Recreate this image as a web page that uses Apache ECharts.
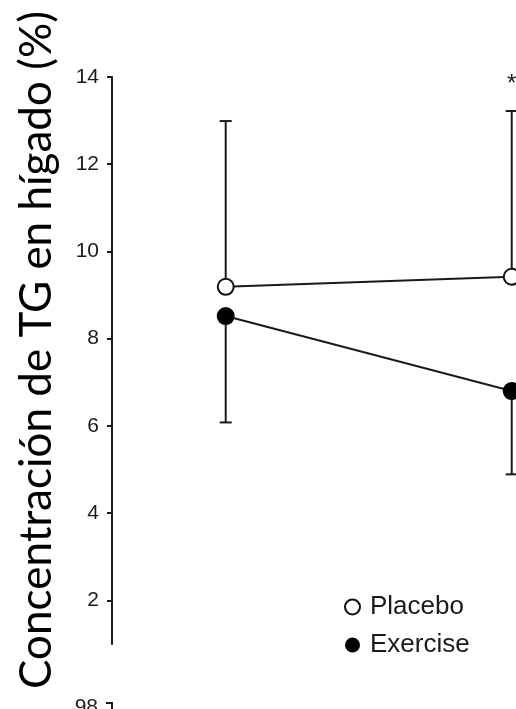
<!DOCTYPE html>
<html>
<head>
<meta charset="utf-8">
<script src="https://cdn.jsdelivr.net/npm/echarts@6/dist/echarts.min.js"></script>
<style>
  html, body { margin: 0; padding: 0; background: #fff; }
  #chart { width: 516px; height: 709px; }
</style>
</head>
<body>
<div id="chart"></div>
<script>
// Time points (index on the hidden x axis)
const timePoints = ['Pre', 'Post'];

// Mean hepatic TG concentration (%)
const placeboMean = [9.19, 9.42];
const exerciseMean = [8.52, 6.80];

// Error-bar ends: placebo drawn upward, exercise drawn downward
const placeboUpper = [12.99, 13.22];
const exerciseLower = [6.08, 4.89];

// Significance marks per time point for the placebo group
const placeboSig = ['', '*'];

// Y-axis tick labels
const yTicks = [2, 4, 6, 8, 10, 12, 14];

const yTitle = 'Concentración de TG en hígado (%)';
const ink = '#1a1a1a';

const chart = echarts.init(document.getElementById('chart'), null, { renderer: 'canvas' });

function errorBarRenderer(ends, marks) {
  return function (params, api) {
    const i = api.value(0);
    const p0 = api.coord([i, api.value(1)]);
    const p1 = api.coord([i, ends[params.dataIndex]]);
    const half = 6;
    const children = [
      { type: 'line', shape: { x1: p0[0], y1: p0[1], x2: p1[0], y2: p1[1] },
        style: { stroke: ink, lineWidth: 2 } },
      { type: 'line', shape: { x1: p1[0] - half, y1: p1[1], x2: p1[0] + half, y2: p1[1] },
        style: { stroke: ink, lineWidth: 2 } }
    ];
    if (marks && marks[params.dataIndex]) {
      children.push({
        type: 'text',
        style: {
          x: p1[0], y: p1[1] - 27, text: marks[params.dataIndex],
          fill: ink, font: '24px "Liberation Sans", Arial, sans-serif',
          align: 'center', verticalAlign: 'middle'
        }
      });
    }
    return { type: 'group', children: children };
  };
}

const placeboPts = timePoints.map((t, i) => [i, placeboMean[i]]);
const exercisePts = timePoints.map((t, i) => [i, exerciseMean[i]]);

chart.setOption({
  animation: false,
  backgroundColor: '#fff',
  grid: { left: 112, right: 0, top: 77, bottom: 65, containLabel: false },
  xAxis: {
    type: 'value', min: -0.3976, max: 1.015, show: false
  },
  yAxis: {
    type: 'value', min: 1, max: 14,
    splitLine: { show: false },
    axisLine: { show: true, onZero: false, lineStyle: { color: ink, width: 2 } },
    axisTick: { show: true, length: 5, lineStyle: { color: ink, width: 2 }, customValues: yTicks },
    axisLabel: {
      customValues: yTicks, margin: 13,
      color: ink, fontSize: 21, fontFamily: '"Liberation Sans", Arial, sans-serif'
    }
  },
  legend: {
    orient: 'vertical', left: 339, top: 589,
    itemWidth: 25, itemHeight: 15, itemGap: 12,
    icon: 'circle',
    textStyle: { fontSize: 26, color: ink, fontFamily: '"Liberation Sans", Arial, sans-serif' },
    data: [
      { name: 'Placebo', itemStyle: { color: '#fff', borderColor: '#111', borderWidth: 2 } },
      { name: 'Exercise', itemStyle: { color: '#000', borderWidth: 0 } }
    ]
  },
  series: [
    {
      name: 'Placebo-err', type: 'custom', z: 1,
      data: placeboPts, renderItem: errorBarRenderer(placeboUpper, placeboSig),
      clip: false, silent: true
    },
    {
      name: 'Exercise-err', type: 'custom', z: 1,
      data: exercisePts, renderItem: errorBarRenderer(exerciseLower, null),
      clip: false, silent: true
    },
    {
      name: 'Placebo', type: 'line', z: 3, data: placeboPts,
      symbol: 'circle', symbolSize: 16,
      itemStyle: { color: '#fff', borderColor: '#111', borderWidth: 2 },
      lineStyle: { color: ink, width: 2 }
    },
    {
      name: 'Exercise', type: 'line', z: 3, data: exercisePts,
      symbol: 'circle', symbolSize: 18,
      itemStyle: { color: '#000', borderWidth: 0 },
      lineStyle: { color: ink, width: 2 }
    }
  ],
  graphic: [
    {
      type: 'text', x: 37, y: 350, rotation: Math.PI / 2,
      style: {
        text: yTitle, fill: '#000',
        font: '44px Lato, "Open Sans", sans-serif',
        align: 'center', verticalAlign: 'middle'
      }
    },
    // top of the next panel's axis, cut by the bottom edge
    {
      type: 'text', x: 98, y: 707,
      style: {
        text: '98', fill: ink, font: '21px "Liberation Sans", Arial, sans-serif',
        align: 'right', verticalAlign: 'middle'
      }
    },
    {
      type: 'polyline',
      shape: { points: [[106, 703], [112, 703], [112, 712]] },
      style: { stroke: ink, lineWidth: 2, fill: null }
    }
  ]
});
</script>
</body>
</html>
